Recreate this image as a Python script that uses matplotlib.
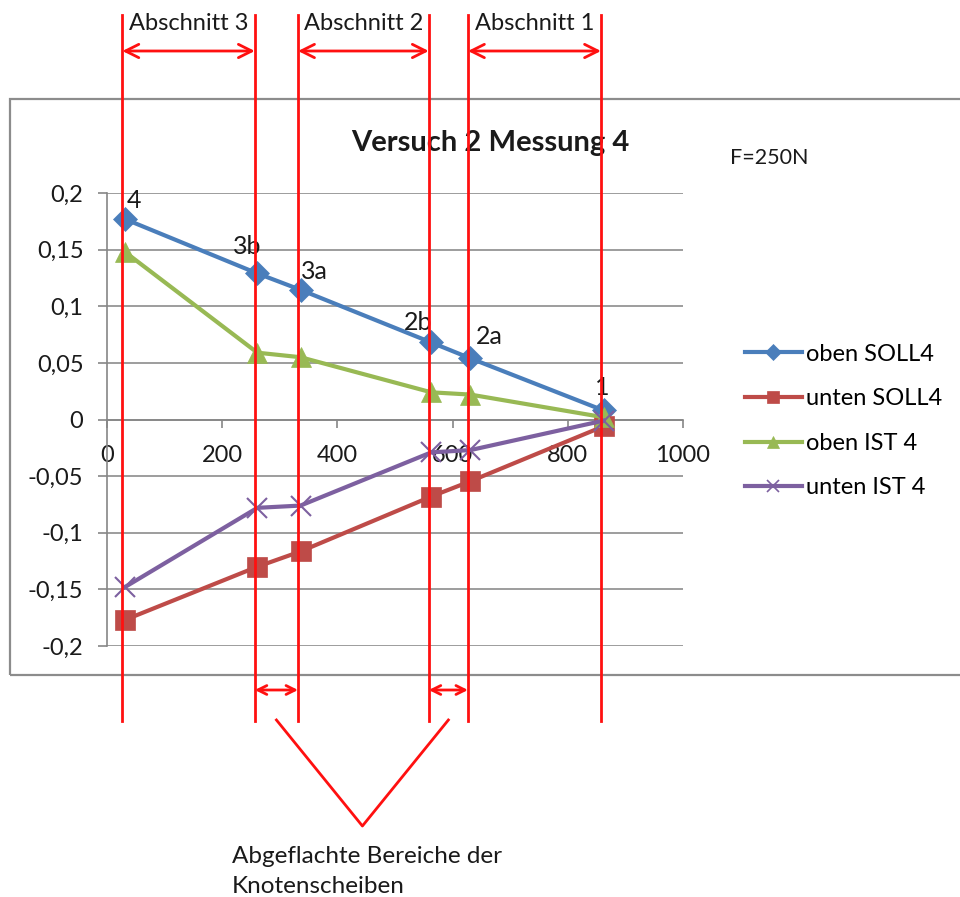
import matplotlib
matplotlib.use("Agg")
import matplotlib.pyplot as plt
from matplotlib import transforms
from matplotlib.patches import Rectangle
from matplotlib.lines import Line2D

plt.rcParams['font.family'] = ['Lato', 'DejaVu Sans']

# Measurement positions (mm) and deflections
x_pos = [31, 261, 336, 563, 631, 862]
point_labels = ["4", "3b", "3a", "2b", "2a", "1"]
oben_soll = [0.177, 0.129, 0.1145, 0.068, 0.054, 0.008]
unten_soll = [-0.177, -0.130, -0.1165, -0.068, -0.0545, -0.006]
oben_ist = [0.148, 0.059, 0.055, 0.024, 0.022, 0.002]
unten_ist = [-0.148, -0.078, -0.076, -0.029, -0.027, -0.001]

series_names = ["oben SOLL4", "unten SOLL4", "oben IST 4", "unten IST 4"]
y_ticks = [-0.2, -0.15, -0.1, -0.05, 0, 0.05, 0.1, 0.15, 0.2]
x_ticks = [0, 200, 400, 600, 800, 1000]

section_names = ["Abschnitt 3", "Abschnitt 2", "Abschnitt 1"]

W, H = 960, 897
fig = plt.figure(figsize=(W / 100, H / 100), dpi=100)

def fy(py):
    return 1 - py / H

# chart frame
fig.patches.append(Rectangle((10 / W, fy(675)), 1.2, (675 - 99) / H,
                             transform=fig.transFigure, fill=False,
                             edgecolor='#8c8c8c', linewidth=1.6, zorder=0))

ax = fig.add_axes([107 / W, fy(646), 576 / W, (646 - 193) / H])
ax.set_xlim(0, 1000)
ax.set_ylim(-0.2, 0.2)
ax.patch.set_alpha(0)

for s in ['top', 'right']:
    ax.spines[s].set_visible(False)
ax.spines['bottom'].set_position(('data', 0))
ax.spines['left'].set_color('#868686')
ax.spines['bottom'].set_color('#868686')
ax.spines['left'].set_linewidth(1.2)
ax.spines['bottom'].set_linewidth(1.2)

ax.set_yticks(y_ticks)
ax.set_yticklabels([("%g" % v).replace('.', ',') for v in y_ticks])
ax.set_xticks(x_ticks)
ax.set_xticklabels([str(v) for v in x_ticks])
ax.tick_params(axis='y', length=6.5, color='#868686', width=1.2, pad=10.5,
               labelsize=17, labelcolor='#1a1a1a')
ax.tick_params(axis='x', direction='out', length=6, color='#868686', width=1.2,
               pad=12, labelsize=17, labelcolor='#1a1a1a')
ax.yaxis.grid(True, color='#8c8c8c', linewidth=1.2)
ax.set_axisbelow(True)

colors = ['#4A7EBB', '#BE4B48', '#98B954', '#7D60A0']
series = [oben_soll, unten_soll, oben_ist, unten_ist]
markers = ['D', 's', '^', 'x']
msizes = [12, 14, 14, 14]
for ys, c, m, ms, name in zip(series, colors, markers, msizes, series_names):
    ax.plot(x_pos, ys, color=c, linewidth=3, marker=m, markersize=ms,
            markeredgewidth=1.5 if m == 'x' else 0.5, markeredgecolor=c,
            label=name, clip_on=False, zorder=3)

# point labels on the upper reference line
label_offsets = [(9, 19), (-10, 27), (14, 18), (-13, 20), (19, 22), (-1, 23)]
for xv, yv, txt, off in zip(x_pos, oben_soll, point_labels, label_offsets):
    ax.annotate(txt, (xv, yv), xytext=off, textcoords='offset pixels',
                ha='center', va='center', fontsize=18, color='#1a1a1a', zorder=5)

# legend
leg_handles = [Line2D([], [], color=c, linewidth=3, marker=m,
                      markersize=ms * 0.65, markeredgecolor=c,
                      markeredgewidth=1.2 if m == 'x' else 0.5)
               for c, m, ms in zip(colors, markers, msizes)]
fig.legend(leg_handles, series_names, loc='center left',
           bbox_to_anchor=(745 / W, fy(421)), frameon=False, fontsize=17,
           handlelength=2.4, handletextpad=0.2, labelspacing=1.0,
           borderaxespad=0, borderpad=0)

fig.text(490 / W, fy(143), "Versuch 2 Messung 4", ha='center', va='center',
         fontsize=21, fontweight='bold', color='#1a1a1a')
fig.text(730 / W, fy(158), "F=250N", ha='left', va='center', fontsize=15.5,
         color='#1a1a1a')

# section markers drawn over the chart
red = '#FF1010'
bt = transforms.blended_transform_factory(ax.transData, fig.transFigure)
shift = transforms.ScaledTranslation(-2.5 / 100, 0, fig.dpi_scale_trans)
bts = bt + shift
for xv in x_pos:
    fig.add_artist(Line2D([xv, xv], [fy(15), fy(721)], transform=bts,
                          color=red, linewidth=2, zorder=10))

section_pairs = [(0, 1), (2, 3), (4, 5)]
for (i, j), name in zip(section_pairs, section_names):
    ax.annotate("", xy=(x_pos[i], fy(51)), xytext=(x_pos[j], fy(51)),
                xycoords=bts, textcoords=bts,
                arrowprops=dict(arrowstyle='<->', color=red, lw=2,
                                mutation_scale=24, shrinkA=0, shrinkB=0),
                annotation_clip=False, zorder=10)
    ax.text((x_pos[i] + x_pos[j]) / 2, fy(24), name, transform=bts,
            ha='center', va='center', fontsize=17, color='#1a1a1a')

flat_pairs = [(1, 2), (3, 4)]
mids = []
for i, j in flat_pairs:
    ax.annotate("", xy=(x_pos[i], fy(690)), xytext=(x_pos[j], fy(690)),
                xycoords=bts, textcoords=bts,
                arrowprops=dict(arrowstyle='<->', color=red, lw=2,
                                mutation_scale=16, shrinkA=0, shrinkB=0),
                annotation_clip=False, zorder=10)
    mids.append((x_pos[i] + x_pos[j]) / 2)

apex = (mids[0] + mids[1]) / 2
fig.add_artist(Line2D([mids[0], apex, mids[1]], [fy(720), fy(826), fy(720)],
                      transform=bts, color=red, linewidth=2, zorder=10))

fig.text(232 / W, fy(856), "Abgeflachte Bereiche der", ha='left',
         va='center', fontsize=17.5, color='#1a1a1a')
fig.text(232 / W, fy(886), "Knotenscheiben", ha='left', va='center',
         fontsize=17.5, color='#1a1a1a')

fig.savefig("out.png", dpi=100)
